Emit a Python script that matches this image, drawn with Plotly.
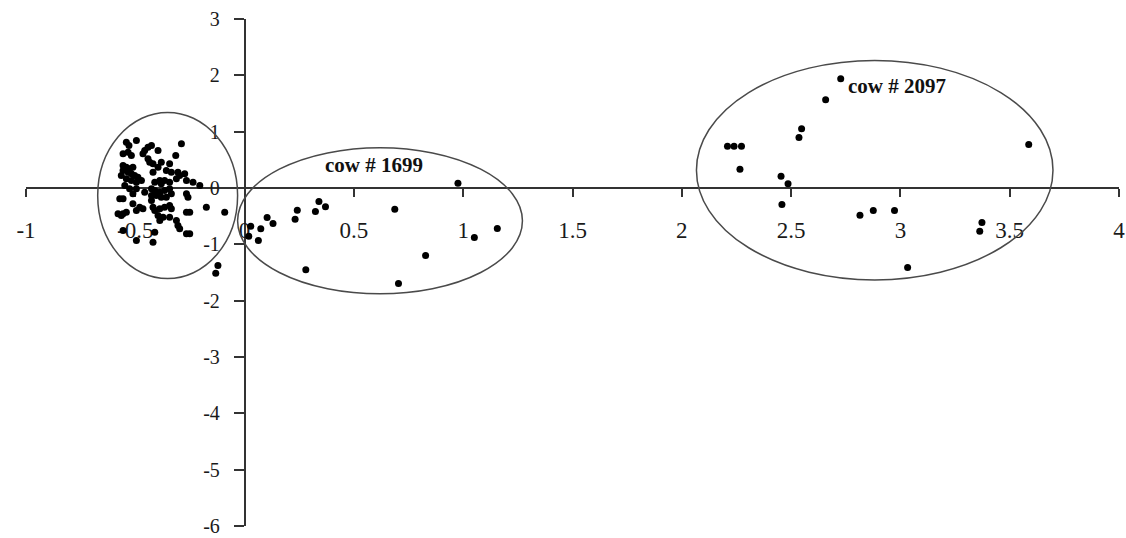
import plotly.graph_objects as go

# Scores of individual milk samples on the first two components
herd_x = [-0.541, -0.529, -0.495, -0.556, -0.533, -0.518, -0.457, -0.442, -0.426, -0.465,
          -0.396, -0.289, -0.315, -0.442, -0.434, -0.419, -0.381, -0.343, -0.358, -0.335,
          -0.305, -0.556, -0.541, -0.526, -0.511, -0.556, -0.533, -0.518, -0.503, -0.488,
          -0.564, -0.541, -0.518, -0.495, -0.472, -0.419, -0.411, -0.388, -0.381, -0.366,
          -0.343, -0.312, -0.297, -0.274, -0.266, -0.236, -0.205, -0.548, -0.526, -0.495,
          -0.426, -0.411, -0.388, -0.366, -0.343, -0.335, -0.358, -0.381, -0.404, -0.426,
          -0.266, -0.259, -0.266, -0.251, -0.175, -0.091, -0.571, -0.556, -0.511, -0.480,
          -0.495, -0.465, -0.426, -0.419, -0.411, -0.388, -0.366, -0.343, -0.335, -0.396,
          -0.388, -0.373, -0.343, -0.312, -0.305, -0.297, -0.266, -0.251, -0.495, -0.419,
          -0.411, -0.556, -0.564, -0.579, -0.556, -0.541, -0.122, -0.132, -0.457, -0.511,
          -0.396]
herd_y = [0.814, 0.755, 0.844, 0.607, 0.636, 0.577, 0.666, 0.725, 0.755, 0.607,
          0.666, 0.785, 0.577, 0.518, 0.459, 0.429, 0.459, 0.429, 0.311, 0.281,
          0.281, 0.400, 0.370, 0.340, 0.370, 0.311, 0.281, 0.252, 0.222, 0.192,
          0.222, 0.163, 0.133, 0.104, 0.133, 0.281, 0.104, 0.133, 0.074, 0.133,
          0.104, 0.163, 0.222, 0.252, 0.133, 0.104, 0.044, 0.044, -0.015, -0.015,
          -0.015, -0.044, -0.074, -0.044, -0.015, -0.104, -0.163, -0.163, -0.133, -0.133,
          -0.104, -0.163, -0.429, -0.429, -0.340, -0.429, -0.192, -0.192, -0.281, -0.340,
          -0.400, -0.370, -0.222, -0.340, -0.400, -0.370, -0.340, -0.311, -0.370, -0.489,
          -0.577, -0.518, -0.518, -0.577, -0.666, -0.725, -0.814, -0.814, -0.933, -0.962,
          -0.785, -0.755, -0.489, -0.459, -0.459, -0.429, -1.377, -1.513, -0.074, -0.104,
          0.370]

cow1699_x = [0.976, 0.687, 0.340, 0.370, 0.324, 0.241, 0.231, 0.103, 0.130, 0.074,
             0.028, 0.019, 0.063, 0.280, 0.704, 0.828, 1.051, 1.156]
cow1699_y = [0.086, -0.376, -0.240, -0.335, -0.418, -0.394, -0.554, -0.524, -0.631, -0.725,
             -0.678, -0.856, -0.932, -1.453, -1.696, -1.199, -0.879, -0.719]

cow2097_x = [2.727, 2.658, 2.548, 2.536, 2.209, 2.239, 2.273, 2.266, 2.454, 2.486,
             2.458, 2.815, 2.876, 2.973, 3.033, 3.373, 3.363, 3.587]
cow2097_y = [1.939, 1.566, 1.051, 0.897, 0.743, 0.743, 0.743, 0.334, 0.210, 0.074,
             -0.293, -0.483, -0.400, -0.400, -1.412, -0.613, -0.767, 0.773]

# Group outlines: (x0, x1, y0, y1)
groups = [(-0.672, -0.032, -1.607, 1.341),
          (-0.032, 1.271, -1.879, 0.714),
          (2.067, 3.698, -1.631, 2.265)]
group_labels = ["cow # 1699", "cow # 2097"]
label_pos_x = [0.591, 2.983]
label_pos_y = [0.40, 1.803]

x_ticks = [-1, -0.5, 0, 0.5, 1, 1.5, 2, 2.5, 3, 3.5, 4]
y_ticks = [3, 2, 1, 0, -1, -2, -3, -4, -5, -6]
x_range = [-1, 4]
y_range = [-6, 3]

all_x = herd_x + cow1699_x + cow2097_x
all_y = herd_y + cow1699_y + cow2097_y

fig = go.Figure()
fig.add_trace(go.Scatter(
    x=all_x, y=all_y, mode="markers",
    marker=dict(color="black", size=7, line=dict(width=0)),
    showlegend=False, hoverinfo="skip",
))

for x0, x1, y0, y1 in groups:
    fig.add_shape(type="circle", xref="x", yref="y", x0=x0, x1=x1, y0=y0, y1=y1,
                  line=dict(color="#4a4a4a", width=1.5), layer="above")

for txt, lx, ly in zip(group_labels, label_pos_x, label_pos_y):
    fig.add_annotation(x=lx, y=ly, xref="x", yref="y", text=f"<b>{txt}</b>",
                       showarrow=False,
                       font=dict(family="Liberation Serif", size=21, color="#111"))

fig.update_layout(
    width=1126, height=538,
    margin=dict(l=26, r=7, t=19, b=12, autoexpand=False),
    paper_bgcolor="white", plot_bgcolor="white",
    xaxis=dict(
        range=x_range, tickvals=x_ticks, ticktext=[f"{v:g}" for v in x_ticks],
        showgrid=False, zeroline=False, showline=True, linecolor="#333", linewidth=1.5,
        ticks="outside", ticklen=8, tickcolor="#333", tickwidth=1.5,
        anchor="free", position=(0 - y_range[0]) / (y_range[1] - y_range[0]),
        tickfont=dict(family="Liberation Serif", size=23, color="#1a1a1a"),
        ticklabelstandoff=14, layer="below traces", automargin=False,
    ),
    yaxis=dict(
        range=y_range, tickvals=y_ticks, ticktext=[f"{v:g}" for v in y_ticks],
        showgrid=False, zeroline=False, showline=True, linecolor="#333", linewidth=1.5,
        ticks="outside", ticklen=10, tickcolor="#333", tickwidth=1.5,
        anchor="free", position=(0 - x_range[0]) / (x_range[1] - x_range[0]),
        tickfont=dict(family="Liberation Serif", size=20, color="#1a1a1a"),
        ticklabelstandoff=10, layer="below traces", automargin=False,
    ),
)

fig.write_html("out.html")
